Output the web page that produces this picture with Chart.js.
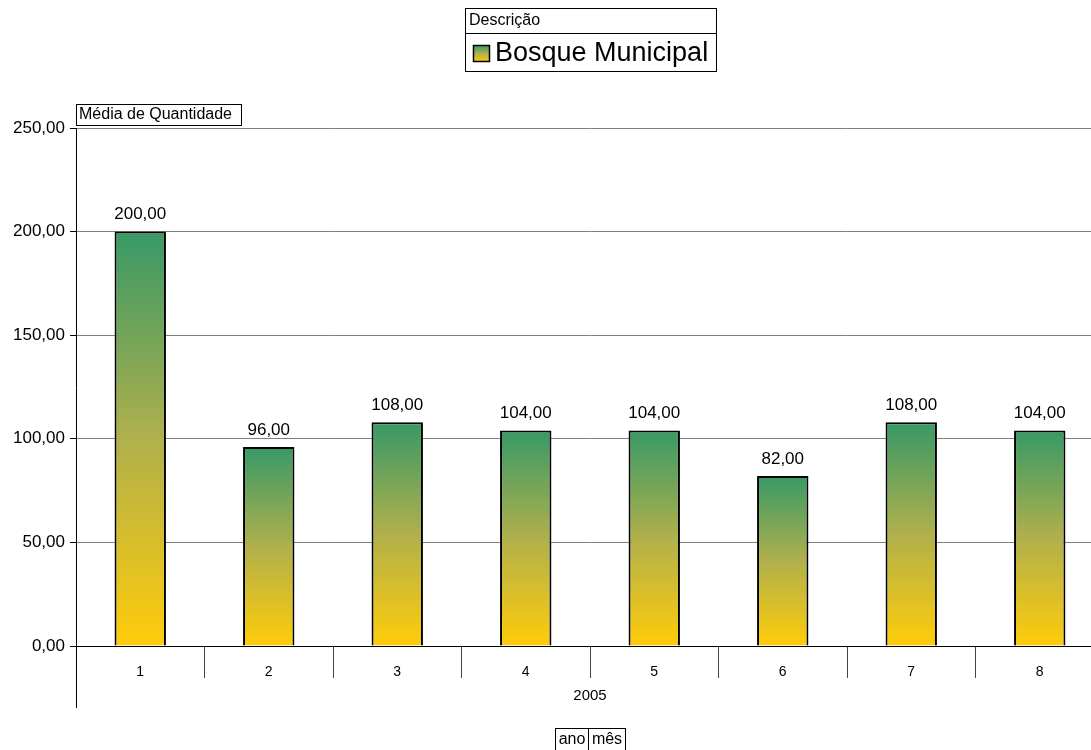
<!DOCTYPE html>
<html>
<head>
<meta charset="utf-8">
<script src="https://cdn.jsdelivr.net/npm/chart.js@4"></script>
<style>
  html, body { margin: 0; padding: 0; background: #fff; overflow: hidden; }
  #wrap { width: 1091px; height: 750px; overflow: hidden; }
</style>
</head>
<body>
<div id="wrap"><canvas id="chart" width="1104" height="750"></canvas></div>
<script>
// media de quantidade por mes, 2005
const meses = ['1', '2', '3', '4', '5', '6', '7', '8'];
const quantidade = [200, 96, 108, 104, 104, 82, 108, 104];
const yTicks = [0, 50, 100, 150, 200, 250];
const ano = '2005';
const serie = 'Bosque Municipal';

const FONT = 'Arial, "Liberation Sans", sans-serif';
const TOP_GREEN = '#379966';
const BOTTOM_YELLOW = '#ffcc0a';

function fmt(v) {
    return v.toFixed(2).replace('.', ',');
}

function barGradient(ctx, top, base) {
    let g = ctx.createLinearGradient(0, top, 0, base);
    g.addColorStop(0, TOP_GREEN);
    g.addColorStop(0.5, '#b0b04c');
    g.addColorStop(1, BOTTOM_YELLOW);
    return g;
}

// each bar gets its own green->yellow fill, top to base
const gradientPlugin = {
    id: 'barGradient',
    beforeDatasetsDraw(chart) {
        const meta = chart.getDatasetMeta(0);
        meta.data.forEach(bar => {
            if (isFinite(bar.y) && isFinite(bar.base)) {
                bar.options.backgroundColor = barGradient(chart.ctx, bar.y, bar.base);
            }
        });
    }
};

// boxes, value labels and the extra axis lines below the plot
const extrasPlugin = {
    id: 'extras',
    afterDatasetsDraw(chart) {
        const ctx = chart.ctx;
        const meta = chart.getDatasetMeta(0);
        ctx.save();
        ctx.fillStyle = '#000';
        ctx.font = '17px ' + FONT;
        ctx.textAlign = 'center';
        ctx.textBaseline = 'middle';
        meta.data.forEach((bar, i) => {
            ctx.fillText(fmt(quantidade[i]), bar.x, bar.y - 17);
        });
        ctx.restore();
    },
    afterDraw(chart) {
        const ctx = chart.ctx;
        const area = chart.chartArea;
        ctx.save();

        // y axis line continues down past the category row
        ctx.strokeStyle = '#000';
        ctx.lineWidth = 1;
        ctx.beginPath();
        ctx.moveTo(area.left + 0.5, area.bottom);
        ctx.lineTo(area.left + 0.5, 708);
        ctx.stroke();

        // year label under the months
        ctx.fillStyle = '#000';
        ctx.font = '15px ' + FONT;
        ctx.textAlign = 'center';
        ctx.textBaseline = 'middle';
        ctx.fillText(ano, (area.left + area.right) / 2, 696);

        // series legend box
        ctx.lineWidth = 1;
        ctx.strokeStyle = '#000';
        ctx.strokeRect(465.5, 8.5, 251, 63);
        ctx.beginPath();
        ctx.moveTo(465.5, 33.5);
        ctx.lineTo(716.5, 33.5);
        ctx.stroke();
        ctx.textAlign = 'left';
        ctx.font = '16px ' + FONT;
        ctx.fillText('Descrição', 469, 21);
        ctx.fillStyle = barGradient(ctx, 45, 62);
        ctx.fillRect(473, 45, 16, 16);
        ctx.lineWidth = 1.5;
        ctx.strokeRect(473.5, 45.5, 16, 16);
        ctx.lineWidth = 1;
        ctx.fillStyle = '#000';
        ctx.font = '27px ' + FONT;
        ctx.fillText(serie, 495, 54);

        // data field box
        ctx.font = '16px ' + FONT;
        ctx.strokeRect(76.5, 104.5, 165, 21);
        ctx.fillText('Média de Quantidade', 79, 115);

        // row field boxes
        ctx.strokeRect(555.5, 728.5, 70, 22);
        ctx.beginPath();
        ctx.moveTo(588.5, 728.5);
        ctx.lineTo(588.5, 750);
        ctx.stroke();
        ctx.textAlign = 'center';
        ctx.fillText('ano', 572, 740);
        ctx.fillText('mês', 607, 740);

        ctx.restore();
    }
};

new Chart(document.getElementById('chart'), {
    type: 'bar',
    data: {
        labels: meses,
        datasets: [{
            label: serie,
            data: quantidade,
            backgroundColor: function() { return TOP_GREEN; },
            borderColor: '#000',
            borderWidth: 2,
            borderSkipped: 'bottom',
            barPercentage: 0.4,
            categoryPercentage: 1.0
        }]
    },
    options: {
        responsive: false,
        animation: false,
        layout: { padding: { top: 128, right: 0, bottom: 0, left: 0 } },
        plugins: {
            legend: { display: false },
            tooltip: { enabled: false }
        },
        scales: {
            x: {
                offset: true,
                grid: {
                    offset: true,
                    drawOnChartArea: false,
                    drawTicks: true,
                    tickLength: 32,
                    color: '#444'
                },
                border: { color: '#000', width: 1 },
                ticks: {
                    color: '#000',
                    font: { family: FONT, size: 14 },
                    padding: -14
                },
                afterFit: function(scale) { scale.height = 104; }
            },
            y: {
                min: 0,
                max: 250,
                afterBuildTicks: function(scale) {
                    scale.ticks = yTicks.map(v => ({ value: v }));
                },
                grid: {
                    color: '#7f7f7f',
                    tickLength: 6,
                    tickColor: '#000'
                },
                border: { color: '#000', width: 1 },
                ticks: {
                    color: '#000',
                    font: { family: FONT, size: 17 },
                    padding: 5,
                    callback: function(value) { return fmt(value); }
                },
                afterFit: function(scale) { scale.width = 76; }
            }
        }
    },
    plugins: [gradientPlugin, extrasPlugin]
});
</script>
</body>
</html>
